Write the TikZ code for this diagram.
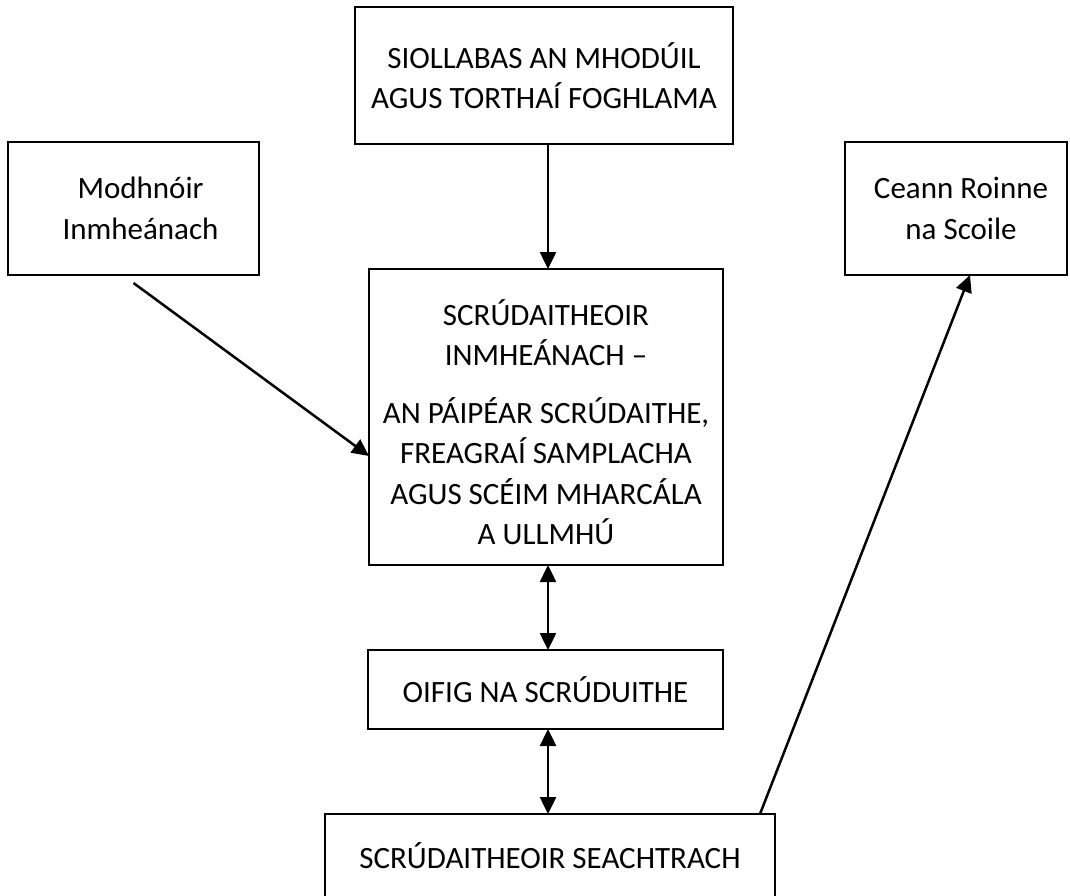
\documentclass[tikz,border=0pt]{standalone}
\usepackage{fontspec}
\setmainfont{Carlito}
\usetikzlibrary{arrows.meta}
\begin{document}
\begin{tikzpicture}[x=1pt,y=-1pt,
  box/.style={draw=black, line width=2.2pt, fill=white, inner sep=0pt, outer sep=0pt,
    align=center, font=\fontsize{31}{40.5}\selectfont},
  arr/.style={line width=2.5pt, -{Triangle[length=17pt,width=16pt]}},
  darr/.style={line width=2.5pt, {Triangle[length=17pt,width=16pt]}-{Triangle[length=17pt,width=16pt]}}]
\clip (0,0) rectangle (1070,895);
\fill[white] (0,0) rectangle (1070,895);
\node[box, minimum width=378pt, minimum height=137pt] (top) at (544,75.5)
  {SIOLLABAS AN MHODÚIL\\AGUS TORTHAÍ FOGHLAMA};
\node[box, minimum width=251pt, minimum height=133pt] (left) at (133.5,208.5)
  {\hspace*{14pt}Modhnóir\\\hspace*{14pt}Inmheánach};
\node[box, minimum width=222pt, minimum height=133pt] (right) at (956,208.5)
  {\hspace*{10pt}Ceann Roinne\\\hspace*{10pt}na Scoile};
\node[box, minimum width=354pt, minimum height=296pt] (center) at (546,417)
  {\\[-4pt]SCRÚDAITHEOIR\\INMHEÁNACH –\\[17pt]AN PÁIPÉAR SCRÚDAITHE,\\FREAGRAÍ SAMPLACHA\\AGUS SCÉIM MHARCÁLA\\A ULLMHÚ};
\node[box, minimum width=355pt, minimum height=79pt] (oifig) at (545.5,689.5)
  {\raisebox{-3pt}{OIFIG NA SCRÚDUITHE}};
\node[box, minimum width=450pt, minimum height=84pt] (ext) at (550,856)
  {SCRÚDAITHEOIR SEACHTRACH};
\draw[arr] ([xshift=4pt]top.south) -- ([xshift=2pt]center.north);
\draw[arr] ([yshift=-8pt]left.south) -- ([yshift=-39pt]center.west);
\draw[darr] ([xshift=2pt]center.south) -- ([xshift=2.5pt]oifig.north);
\draw[darr] ([xshift=2.5pt]oifig.south) -- ([xshift=-2pt]ext.north);
\draw[arr] ([xshift=210pt]ext.north) -- ([xshift=14pt]right.south);
\end{tikzpicture}
\end{document}
